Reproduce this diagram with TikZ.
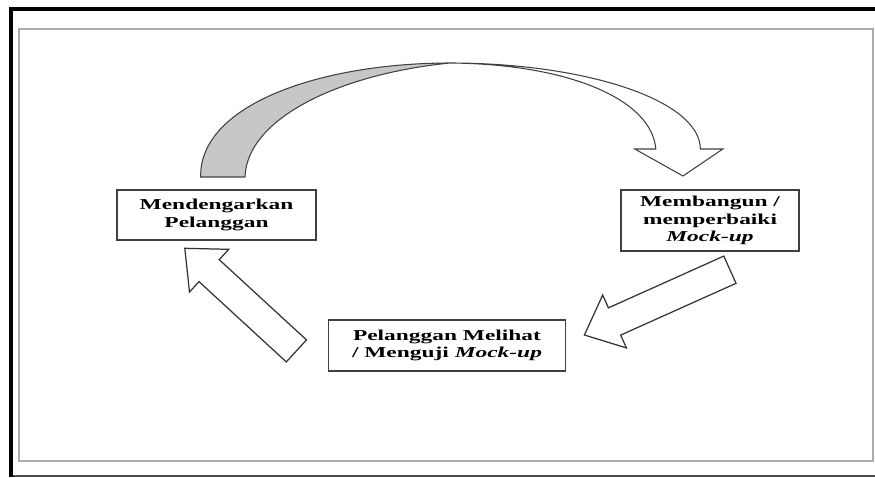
\documentclass[tikz,border=0pt]{standalone}
\usepackage{fontspec}
\setmainfont{Liberation Serif}[FakeStretch=1.55]
\usetikzlibrary{calc}

\begin{document}
\begin{tikzpicture}[
x=0.02cm, y=-0.02cm,
box/.style={rectangle, draw=black!75, line width=0.8pt, fill=white, align=center,
  font=\fontsize{8.6}{10}\selectfont\bfseries, inner sep=2pt},
blockarrow/.style={draw=black!80, fill=white, line width=0.7pt, line join=miter,
  to path={
   ($(\tikztostart)!8.5pt!90:(\tikztotarget)$)
   -- ($(\tikztotarget)!18.8pt!(\tikztostart)!8.5pt!-90:(\tikztostart)$)
   -- ($(\tikztotarget)!18.8pt!(\tikztostart)!16.5pt!-90:(\tikztostart)$)
   -- (\tikztotarget)
   -- ($(\tikztotarget)!18.8pt!(\tikztostart)!16.5pt!90:(\tikztostart)$)
   -- ($(\tikztotarget)!18.8pt!(\tikztostart)!8.5pt!90:(\tikztostart)$)
   -- ($(\tikztostart)!8.5pt!-90:(\tikztotarget)$)
   -- cycle}},
]
\useasboundingbox (0,0) rectangle (875,477);
%Frame
\draw[line width=2.3pt] (11,477) -- (11,9) -- (875,9);
\draw[black!70, line width=0.6pt] (13,476) -- (875,476);
\draw[gray!65, line width=1.1pt] (19,29) rectangle (873,461);
%Curved arrow
\draw[black!75, fill=black!22, line width=0.6pt] (200.7,177) .. controls (199,105) and (320,63) .. (450,63)
  .. controls (340,74) and (247,118) .. (245,177) -- cycle;
\draw[black!75, fill=white, line width=0.6pt, line join=miter] (450,63) .. controls (585,63) and (700,100) .. (700.4,149)
  -- (722.8,149) -- (683,176) -- (634.8,149) -- (655.8,149)
  .. controls (652,100) and (570,64) .. (450,63) -- cycle;
%Nodes
\node[box, minimum width=3.98cm, minimum height=1cm]   at (216.5,215)   (listen) {Mendengarkan\\Pelanggan};
\node[box, minimum width=3.56cm, minimum height=1.22cm] at (710,220.5)  (build)  {Membangun /\\memperbaiki\\\textit{Mock-up}};
\node[box, minimum width=4.74cm, minimum height=1.02cm] at (447,345.5)  (test)   {Pelanggan Melihat\\/ Menguji \textit{Mock-up}};
%Straight arrows
\coordinate (rtail) at (729.9,269.7);
\coordinate (rtip)  at (584.4,335);
\coordinate (ltail) at (296.4,350.9);
\coordinate (ltip)  at (184.8,248.3);
\draw[blockarrow] (rtail) to (rtip);
\draw[blockarrow] (ltail) to (ltip);
\end{tikzpicture}
\end{document}
